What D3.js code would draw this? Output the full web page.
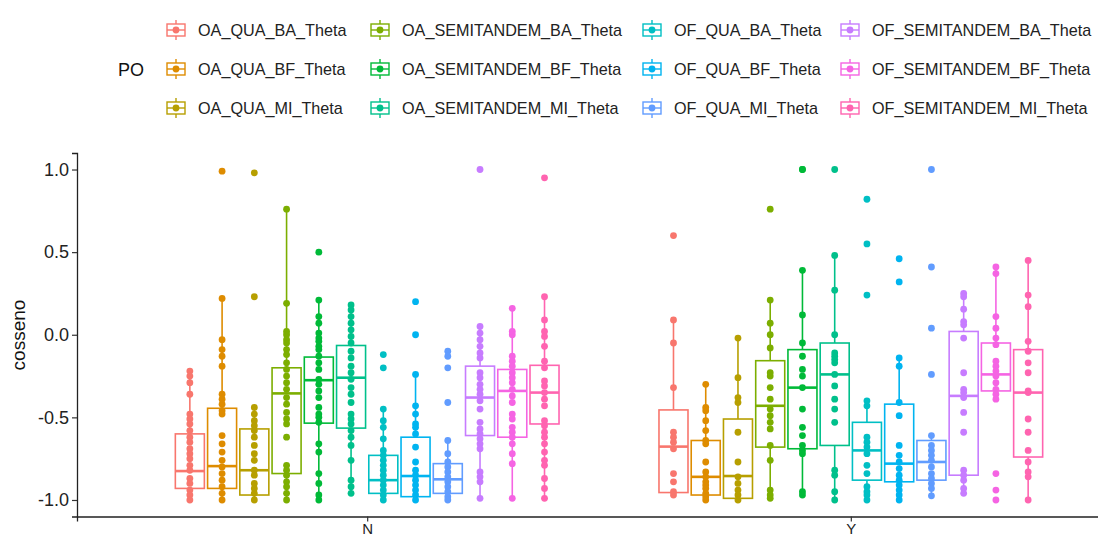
<!DOCTYPE html>
<html>
<head>
<meta charset="utf-8">
<script src="https://cdn.jsdelivr.net/npm/d3@7"></script>
<style>
  body { margin: 0; background: #fff; }
  text { font-family: "Liberation Sans", Arial, sans-serif; }
</style>
</head>
<body>
<div id="chart"></div>
<script>
const categories = ['N', 'Y'];
const groups = [
  'OA_QUA_BA_Theta', 'OA_QUA_BF_Theta', 'OA_QUA_MI_Theta',
  'OA_SEMITANDEM_BA_Theta', 'OA_SEMITANDEM_BF_Theta', 'OA_SEMITANDEM_MI_Theta',
  'OF_QUA_BA_Theta', 'OF_QUA_BF_Theta', 'OF_QUA_MI_Theta',
  'OF_SEMITANDEM_BA_Theta', 'OF_SEMITANDEM_BF_Theta', 'OF_SEMITANDEM_MI_Theta'
];
const colors = ['#F8766D', '#DE8C00', '#B79F00', '#7CAE00', '#00BA38', '#00C08B',
  '#00BFC4', '#00B4F0', '#619CFF', '#C77CFF', '#F564E3', '#FF64B0'];
const yTicks = [-1, -0.5, 0, 0.5, 1];

// box stats per group: [lower whisker, q1, median, q3, upper whisker]
const statsN = [
  [-1.0, -0.93, -0.825, -0.60, -0.22],
  [-1.0, -0.93, -0.795, -0.445, 0.22],
  [-1.0, -0.97, -0.82, -0.57, -0.44],
  [-1.0, -0.84, -0.355, -0.20, 0.76],
  [-1.0, -0.535, -0.275, -0.135, 0.21],
  [-0.96, -0.565, -0.26, -0.065, 0.18],
  [-1.0, -0.96, -0.88, -0.73, -0.45],
  [-1.0, -0.98, -0.855, -0.62, -0.24],
  [-1.0, -0.96, -0.875, -0.78, -0.64],
  [-0.99, -0.61, -0.38, -0.19, 0.05],
  [-0.99, -0.62, -0.34, -0.21, 0.16],
  [-0.99, -0.54, -0.35, -0.185, 0.23]
];
const statsY = [
  [-0.97, -0.955, -0.677, -0.455, 0.09],
  [-1.0, -0.97, -0.86, -0.64, -0.30],
  [-1.0, -0.99, -0.855, -0.51, -0.02],
  [-0.99, -0.68, -0.43, -0.157, 0.21],
  [-0.97, -0.69, -0.32, -0.09, 0.39],
  [-1.0, -0.67, -0.24, -0.05, 0.48],
  [-1.0, -0.88, -0.70, -0.53, -0.40],
  [-1.0, -0.89, -0.78, -0.42, -0.14],
  [-0.975, -0.88, -0.77, -0.64, -0.61],
  [-0.96, -0.85, -0.37, 0.02, 0.25],
  [-0.395, -0.34, -0.24, -0.05, 0.41],
  [-1.0, -0.74, -0.35, -0.09, 0.45]
];

const pointsN = [
  [-0.22,-0.25,-0.29,-0.36,-0.48,-0.51,-0.54,-0.58,-0.62,-0.65,-0.69,-0.72,-0.75,-0.79,-0.82,-0.87,-0.90,-0.94,-0.97,-1.0],
  [0.99,0.22,-0.03,-0.09,-0.13,-0.19,-0.36,-0.39,-0.42,-0.46,-0.48,-0.61,-0.66,-0.71,-0.76,-0.80,-0.84,-0.88,-0.92,-0.96,-1.0],
  [0.98,0.23,-0.44,-0.48,-0.52,-0.55,-0.58,-0.62,-0.67,-0.72,-0.76,-0.82,-0.85,-0.90,-0.93,-0.96,-1.0],
  [0.76,0.19,0.02,0.0,-0.03,-0.05,-0.09,-0.12,-0.17,-0.21,-0.25,-0.29,-0.33,-0.38,-0.42,-0.47,-0.51,-0.54,-0.62,-0.79,-0.82,-0.85,-0.89,-0.92,-0.96,-1.0],
  [0.50,0.21,0.11,0.07,0.01,-0.02,-0.04,-0.07,-0.09,-0.13,-0.17,-0.21,-0.27,-0.30,-0.34,-0.38,-0.44,-0.48,-0.50,-0.53,-0.66,-0.71,-0.84,-0.90,-0.97,-1.0],
  [0.18,0.15,0.11,0.07,0.03,-0.01,-0.05,-0.10,-0.14,-0.19,-0.23,-0.27,-0.32,-0.36,-0.41,-0.48,-0.51,-0.54,-0.58,-0.62,-0.67,-0.76,-0.88,-0.92,-0.96],
  [-0.12,-0.20,-0.45,-0.52,-0.56,-0.63,-0.70,-0.73,-0.76,-0.79,-0.82,-0.85,-0.88,-0.91,-0.94,-0.97,-1.0],
  [0.20,0.0,-0.24,-0.43,-0.48,-0.54,-0.56,-0.60,-0.68,-0.77,-0.82,-0.85,-0.88,-0.91,-0.94,-0.97,-1.0],
  [-0.10,-0.13,-0.20,-0.41,-0.64,-0.72,-0.77,-0.80,-0.83,-0.86,-0.89,-0.92,-0.95,-0.98,-1.0],
  [1.0,0.05,0.01,-0.03,-0.07,-0.11,-0.14,-0.23,-0.26,-0.30,-0.33,-0.36,-0.40,-0.45,-0.53,-0.57,-0.60,-0.63,-0.66,-0.69,-0.83,-0.86,-0.89,-0.99],
  [0.16,0.02,0.0,-0.13,-0.16,-0.19,-0.23,-0.26,-0.29,-0.33,-0.37,-0.41,-0.48,-0.51,-0.56,-0.59,-0.62,-0.66,-0.72,-0.78,-0.99],
  [0.95,0.23,0.09,0.02,-0.01,-0.07,-0.16,-0.20,-0.28,-0.31,-0.35,-0.39,-0.43,-0.52,-0.55,-0.59,-0.62,-0.66,-0.71,-0.76,-0.79,-0.87,-0.93,-0.99]
];
const pointsY = [
  [0.60,0.09,-0.05,-0.32,-0.59,-0.62,-0.65,-0.69,-0.84,-0.89,-0.95,-0.97],
  [-0.30,-0.44,-0.46,-0.52,-0.58,-0.64,-0.66,-0.77,-0.83,-0.86,-0.89,-0.91,-0.93,-0.96,-0.98,-1.0],
  [-0.02,-0.26,-0.38,-0.41,-0.59,-0.77,-0.86,-0.90,-0.94,-0.97,-1.0],
  [0.76,0.21,0.07,0.0,-0.08,-0.23,-0.25,-0.32,-0.39,-0.45,-0.49,-0.53,-0.57,-0.67,-0.76,-0.94,-0.97,-0.99],
  [1.0,1.0,0.39,0.12,-0.05,-0.13,-0.21,-0.25,-0.32,-0.45,-0.56,-0.61,-0.67,-0.70,-0.72,-0.95,-0.97],
  [1.0,0.48,0.27,0.0,-0.11,-0.13,-0.15,-0.17,-0.24,-0.31,-0.39,-0.45,-0.53,-0.82,-0.85,-0.95,-1.0],
  [0.82,0.55,0.24,-0.40,-0.43,-0.62,-0.65,-0.68,-0.72,-0.79,-0.84,-0.92,-0.95,-0.97,-1.0],
  [0.46,0.32,-0.14,-0.19,-0.41,-0.49,-0.67,-0.73,-0.77,-0.81,-0.85,-0.88,-0.91,-0.94,-0.97,-1.0],
  [1.0,0.41,0.04,-0.24,-0.61,-0.67,-0.70,-0.73,-0.76,-0.80,-0.84,-0.87,-0.90,-0.93,-0.975],
  [0.25,0.23,0.155,0.08,0.06,-0.02,-0.23,-0.33,-0.35,-0.38,-0.47,-0.59,-0.82,-0.85,-0.88,-0.93,-0.96],
  [0.41,0.37,0.11,0.04,-0.02,-0.06,-0.16,-0.19,-0.22,-0.25,-0.29,-0.33,-0.36,-0.39,-0.84,-0.94,-1.0],
  [0.45,0.24,0.17,-0.04,-0.10,-0.17,-0.23,-0.34,-0.35,-0.51,-0.59,-0.70,-0.77,-0.83,-0.86,-1.0]
];

const width = 1098, height = 540;
const svg = d3.select('#chart').append('svg')
  .attr('width', width).attr('height', height);

// x in category units (ggplot style 0.6 expansion on each side)
const x = d3.scaleLinear().domain([0.4, 2.6]).range([77, 1141]);
const y = d3.scaleLinear().domain([-1.1, 1.1]).range([516.5, 153]);
const unit = x(2) - x(1);
const dodge = d3.scaleBand().domain(groups).range([-0.4 * unit, 0.4 * unit]);
const boxW = dodge.bandwidth() * 0.9;

const stats = [statsN, statsY];
const points = [pointsN, pointsY];

categories.forEach((cat, ci) => {
  const g = svg.append('g');
  groups.forEach((grp, gi) => {
    const cx = x(ci + 1) + dodge(grp) + dodge.bandwidth() / 2;
    const s = stats[ci][gi];
    const col = colors[gi];
    const bg = g.append('g');
    // whiskers
    bg.append('line').attr('x1', cx).attr('x2', cx)
      .attr('y1', y(s[3])).attr('y2', y(s[4]))
      .attr('stroke', col).attr('stroke-width', 1.6);
    bg.append('line').attr('x1', cx).attr('x2', cx)
      .attr('y1', y(s[0])).attr('y2', y(s[1]))
      .attr('stroke', col).attr('stroke-width', 1.6);
    bg.append('rect')
      .attr('x', cx - boxW / 2).attr('width', boxW)
      .attr('y', y(s[3])).attr('height', y(s[1]) - y(s[3]))
      .attr('fill', '#fff').attr('stroke', col).attr('stroke-width', 1.6);
    bg.append('line').attr('x1', cx - boxW / 2).attr('x2', cx + boxW / 2)
      .attr('y1', y(s[2])).attr('y2', y(s[2]))
      .attr('stroke', col).attr('stroke-width', 2.6);
    bg.selectAll('circle').data(points[ci][gi]).enter().append('circle')
      .attr('cx', cx).attr('cy', d => y(d)).attr('r', 3.4)
      .attr('fill', col);
  });
});

// axes
const yAxis = svg.append('g').attr('transform', 'translate(77,0)')
  .call(d3.axisLeft(y).tickValues(yTicks).tickFormat(d => d.toFixed(1)).tickSizeOuter(0).tickSize(5));
const xAxis = svg.append('g').attr('transform', 'translate(0,516.5)')
  .call(d3.axisBottom(x).tickValues([1, 2]).tickFormat(d => categories[d - 1]).tickSizeOuter(0).tickSize(5));
[yAxis, xAxis].forEach(a => {
  a.select('.domain').attr('stroke', '#222').attr('stroke-width', 1.3);
  a.selectAll('.tick line').attr('stroke', '#333').attr('stroke-width', 1.2);
  a.selectAll('.tick text').attr('fill', '#222').style('font-size', '18px');
});
yAxis.selectAll('.tick text').attr('x', -8);
// keep N / Y inside the frame (the reference crops them slightly)
xAxis.selectAll('.tick text').attr('y', 7).style('font-size', '15px');

svg.append('text')
  .attr('transform', 'translate(25,335) rotate(-90)')
  .attr('text-anchor', 'middle').style('font-size', '19px').attr('fill', '#111')
  .text('cosseno');

// legend
const legend = svg.append('g');
legend.append('text').attr('x', 118).attr('y', 76)
  .style('font-size', '18px').attr('fill', '#111').text('PO');
const colX = [176, 380, 652, 850];
const rowY = [30, 69, 108];
groups.forEach((grp, i) => {
  const lx = colX[Math.floor(i / 3)], ly = rowY[i % 3];
  const k = legend.append('g').attr('transform', `translate(${lx},${ly})`);
  k.append('line').attr('x1', 0).attr('x2', 0).attr('y1', -10).attr('y2', 10)
    .attr('stroke', colors[i]).attr('stroke-width', 1.4);
  k.append('rect').attr('x', -9).attr('y', -6).attr('width', 18).attr('height', 12)
    .attr('fill', '#fff').attr('stroke', colors[i]).attr('stroke-width', 1.4);
  k.append('line').attr('x1', -9).attr('x2', 9).attr('y1', 0).attr('y2', 0)
    .attr('stroke', colors[i]).attr('stroke-width', 1.4);
  k.append('circle').attr('r', 3.4).attr('fill', colors[i]);
  legend.append('text').attr('x', lx + 22).attr('y', ly + 6)
    .style('font-size', '16.2px').attr('fill', '#222').text(grp);
});
</script>
</body>
</html>
